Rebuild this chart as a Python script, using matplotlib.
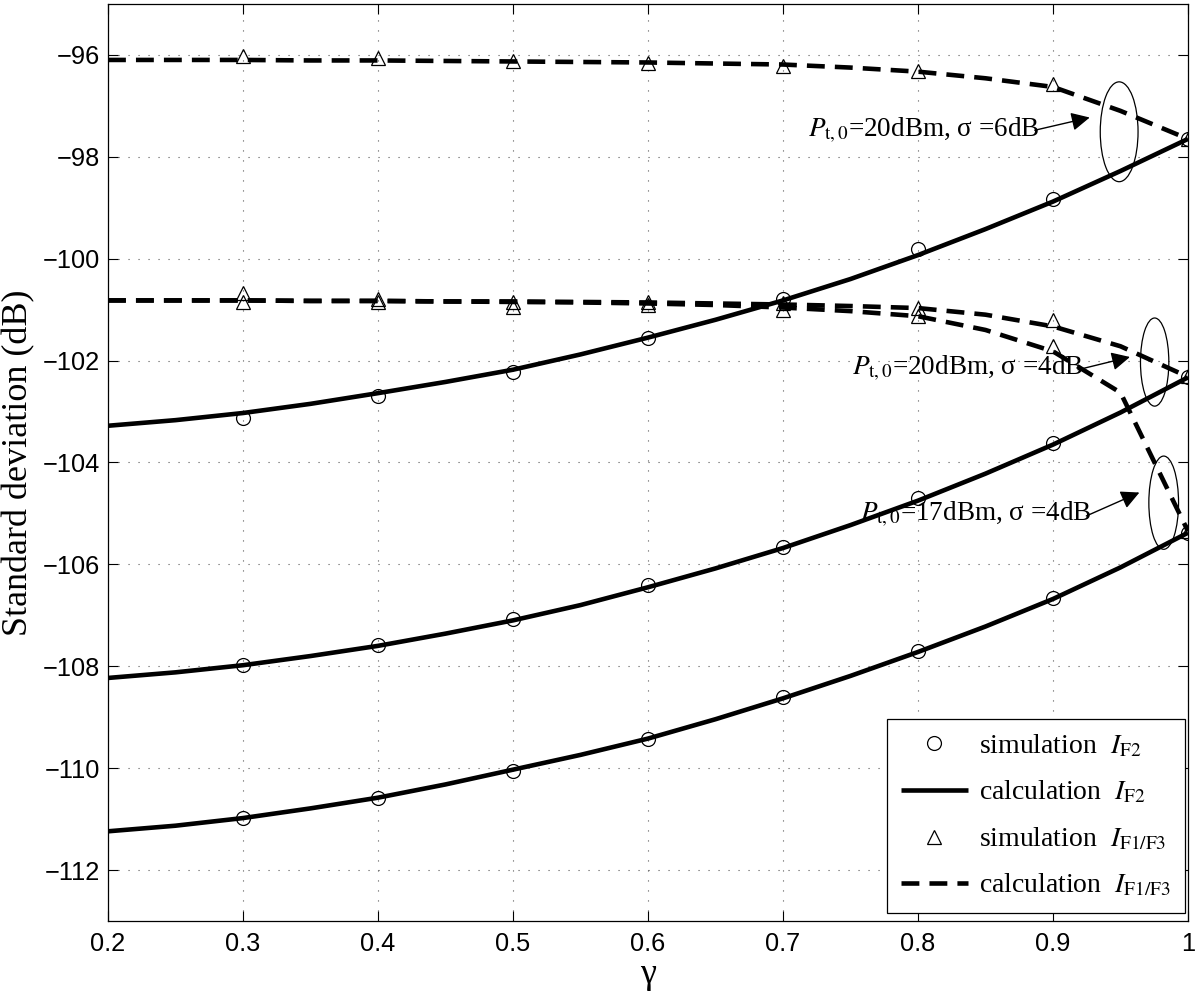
import matplotlib
matplotlib.use('Agg')
import matplotlib.pyplot as plt
from matplotlib.patches import Ellipse

plt.rcParams['font.family'] = ['Liberation Serif', 'DejaVu Serif']
plt.rcParams['mathtext.fontset'] = 'stix'

# ---------------- data ----------------
gamma_calc = [0.20, 0.25, 0.30, 0.35, 0.40, 0.45, 0.50, 0.55, 0.60,
              0.65, 0.70, 0.75, 0.80, 0.85, 0.90, 0.95, 1.00]
gamma_sim = [0.3, 0.4, 0.5, 0.6, 0.7, 0.8, 0.9, 1.0]

# calculation I_F2
calc_f2_p20_s6 = [-103.28, -103.17, -103.03, -102.85, -102.64, -102.42, -102.18, -101.88, -101.55,
                  -101.20, -100.82, -100.40, -99.93, -99.42, -98.88, -98.28, -97.65]
calc_f2_p20_s4 = [-108.23, -108.12, -107.98, -107.80, -107.60, -107.36, -107.10, -106.80, -106.45,
                  -106.08, -105.68, -105.23, -104.75, -104.22, -103.65, -103.02, -102.33]
calc_f2_p17_s4 = [-111.24, -111.13, -110.98, -110.79, -110.58, -110.32, -110.03, -109.74, -109.42,
                  -109.04, -108.63, -108.19, -107.72, -107.22, -106.68, -106.06, -105.38]

# calculation I_F1/F3
calc_f13_p20_s6 = [-96.10, -96.10, -96.10, -96.11, -96.11, -96.12, -96.13, -96.14, -96.15,
                   -96.17, -96.19, -96.25, -96.33, -96.46, -96.63, -97.10, -97.65]
calc_f13_p20_s4 = [-100.82, -100.82, -100.82, -100.83, -100.83, -100.84, -100.84, -100.85, -100.86,
                   -100.88, -100.90, -100.93, -100.97, -101.10, -101.33, -101.72, -102.32]
calc_f13_p17_s4 = [-100.82, -100.82, -100.82, -100.83, -100.83, -100.84, -100.85, -100.86, -100.88,
                   -100.91, -100.96, -101.03, -101.13, -101.40, -101.82, -102.63, -105.35]

# simulation I_F2
sim_f2_p20_s6 = [-103.12, -102.69, -102.23, -101.55, -100.80, -99.81, -98.82, -97.65]
sim_f2_p20_s4 = [-107.98, -107.59, -107.08, -106.41, -105.66, -104.69, -103.61, -102.33]
sim_f2_p17_s4 = [-110.98, -110.58, -110.06, -109.42, -108.60, -107.70, -106.66, -105.38]

# simulation I_F1/F3
sim_f13_p20_s6 = [-96.02, -96.07, -96.13, -96.16, -96.22, -96.31, -96.57, -97.65]
sim_f13_p20_s4 = [-100.67, -100.80, -100.85, -100.85, -100.88, -100.97, -101.20, -102.31]
sim_f13_p17_s4 = [-100.85, -100.85, -100.95, -100.91, -101.00, -101.12, -101.72, -105.34]

x_ticks = [0.2, 0.3, 0.4, 0.5, 0.6, 0.7, 0.8, 0.9, 1.0]
x_tick_labels = ['0.2', '0.3', '0.4', '0.5', '0.6', '0.7', '0.8', '0.9', '1']
y_ticks = [-112, -110, -108, -106, -104, -102, -100, -98, -96]

annotations = [
    # text, text anchor (x, y), arrow tail, arrow tip
    (r'$P_{\mathrm{t,0}}$=20dBm, σ =6dB', (0.7185, -97.48), (0.8865, -97.48), (0.9272, -97.23)),
    (r'$P_{\mathrm{t,0}}$=20dBm, σ =4dB', (0.7510, -102.15), (0.9185, -102.18), (0.9570, -101.93)),
    (r'$P_{\mathrm{t,0}}$=17dBm, σ =4dB', (0.7570, -105.02), (0.9247, -105.05), (0.9640, -104.59)),
]
ellipses = [
    # center, width, height
    ((0.949, -97.51), 0.028, 1.96),
    ((0.9753, -102.03), 0.021, 1.73),
    ((0.982, -104.79), 0.022, 1.83),
]

# ---------------- figure ----------------
fig = plt.figure(figsize=(12, 9.99), dpi=100)
ax = fig.add_axes([0.09, 0.0781, 0.90, 0.918])

lw = 3.3
dash = (0, (3.9, 2.2))
ms = 10
mew = 0.9

for i, y in enumerate([calc_f2_p20_s6, calc_f2_p20_s4, calc_f2_p17_s4]):
    ax.plot(gamma_calc, y, color='k', lw=lw, solid_capstyle='butt',
            label=r'calculation  $I_{\mathrm{F2}}$' if i == 0 else None, zorder=3)
for i, y in enumerate([calc_f13_p20_s6, calc_f13_p20_s4, calc_f13_p17_s4]):
    ax.plot(gamma_calc, y, color='k', lw=lw, linestyle=dash, dash_capstyle='butt',
            label=r'calculation  $I_{\mathrm{F1/F3}}$' if i == 0 else None, zorder=3)
for i, y in enumerate([sim_f2_p20_s6, sim_f2_p20_s4, sim_f2_p17_s4]):
    ax.plot(gamma_sim, y, linestyle='none', marker='o', ms=ms, mfc='none', mec='k', mew=mew,
            label=r'simulation  $I_{\mathrm{F2}}$' if i == 0 else None, zorder=4)
for i, y in enumerate([sim_f13_p20_s6, sim_f13_p20_s4, sim_f13_p17_s4]):
    ax.plot(gamma_sim, y, linestyle='none', marker='^', ms=ms, mfc='none', mec='k', mew=mew,
            label=r'simulation  $I_{\mathrm{F1/F3}}$' if i == 0 else None, zorder=4)

for (c, w, h) in ellipses:
    ax.add_patch(Ellipse(c, w, h, fill=False, ec='k', lw=0.9, zorder=5))

for (txt, pos, tail, tip) in annotations:
    ax.text(pos[0], pos[1], txt, fontsize=19.5, ha='left', va='center', zorder=6)
    ax.annotate('', xy=tip, xytext=tail,
                arrowprops=dict(arrowstyle='-|>', color='k', lw=1.0,
                                mutation_scale=28, shrinkA=0, shrinkB=0),
                zorder=6)

ax.set_xlim(0.2, 1.0)
ax.set_ylim(-113, -95)
ax.set_xticks(x_ticks)
ax.set_xticklabels(x_tick_labels)
ax.set_yticks(y_ticks)

ax.grid(True, color='0.35', linestyle=(0, (1, 8)), lw=0.8)
ax.set_axisbelow(True)
ax.tick_params(direction='in', top=True, right=True, length=7, width=0.8,
               labelsize=18.3)
ax.tick_params(axis='x', pad=8)
ax.tick_params(axis='y', pad=6)
for lab in ax.get_xticklabels() + ax.get_yticklabels():
    lab.set_fontfamily(['Liberation Sans', 'DejaVu Sans'])
for sp in ax.spines.values():
    sp.set_linewidth(0.9)

ax.set_ylabel('Standard deviation (dB)', fontsize=26)
ax.yaxis.set_label_coords(-0.067, 0.5)
ax.set_xlabel('γ', fontsize=26)
ax.xaxis.set_label_coords(0.5, -0.040)

handles, labels = ax.get_legend_handles_labels()
order = [labels.index(l) for l in [r'simulation  $I_{\mathrm{F2}}$', r'calculation  $I_{\mathrm{F2}}$',
                                   r'simulation  $I_{\mathrm{F1/F3}}$', r'calculation  $I_{\mathrm{F1/F3}}$']]
leg = ax.legend([handles[k] for k in order], [labels[k] for k in order],
                loc='lower right', bbox_to_anchor=(0.997, 0.009), borderaxespad=0,
                fontsize=20, frameon=True, fancybox=False, edgecolor='k', framealpha=1,
                handlelength=2.4, handletextpad=0.4, labelspacing=0.72, borderpad=0.5)
leg.get_frame().set_linewidth(0.9)

fig.savefig('out.png', dpi=100)
